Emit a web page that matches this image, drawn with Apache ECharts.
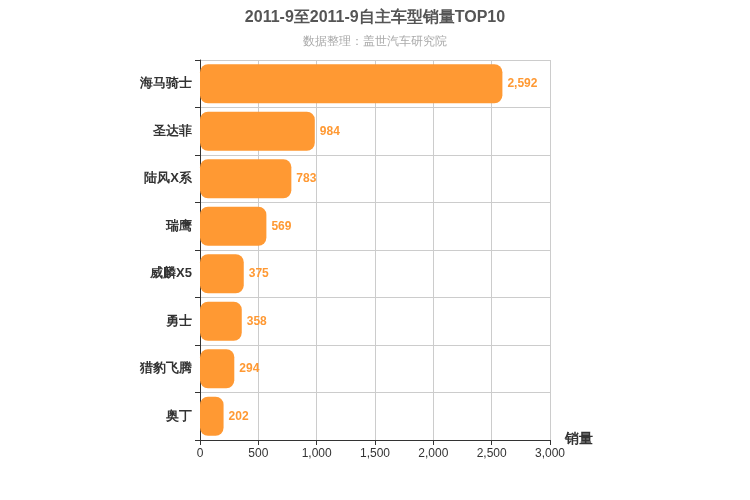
<!DOCTYPE html>
<html><head><meta charset="utf-8">
<script src="https://cdn.jsdelivr.net/npm/echarts@6/dist/echarts.min.js"></script>
</head><body style="margin:0">
<div id="c" style="width:750px;height:500px"></div>
<script>
const categories = ['海马骑士','圣达菲','陆风X系','瑞鹰','威麟X5','勇士','猎豹飞腾','奥丁'];
const values = [2592,984,783,569,375,358,294,202];
const chart = echarts.init(document.getElementById('c'));
chart.setOption({
  title:{text:'2011-9至2011-9自主车型销量TOP10',subtext:'数据整理：盖世汽车研究院',left:'center',top:5,
    textStyle:{fontSize:16,fontWeight:'bold',color:'#555'},subtextStyle:{fontSize:12,color:'#aaa'},itemGap:10},
  grid:{left:200,right:200,top:60,bottom:60},
  xAxis:{type:'value',min:0,max:3000,interval:500,name:'销量',nameLocation:'end',nameGap:15,
    nameTextStyle:{fontWeight:'bold',fontSize:14,color:'#333',verticalAlign:'top',padding:[-8,0,0,0]},
    axisLine:{show:true,lineStyle:{color:'#333'}},axisTick:{show:true},
    axisLabel:{color:'#333',fontSize:12},splitLine:{lineStyle:{color:'#ccc'}}},
  yAxis:{type:'category',data:categories,inverse:true,
    axisLine:{lineStyle:{color:'#333'}},axisTick:{show:true},
    axisLabel:{color:'#333',fontSize:13,fontWeight:'bold'},splitLine:{show:true,lineStyle:{color:'#ccc'}}},
  series:[{type:'bar',data:values,barWidth:'82%',
    itemStyle:{color:'#ff9933',borderRadius:8},
    label:{show:true,position:'right',color:'#ff9933',fontWeight:'bold',fontSize:12,
      formatter:p=>p.value.toLocaleString('en-US')}}]
});
</script></body></html>
